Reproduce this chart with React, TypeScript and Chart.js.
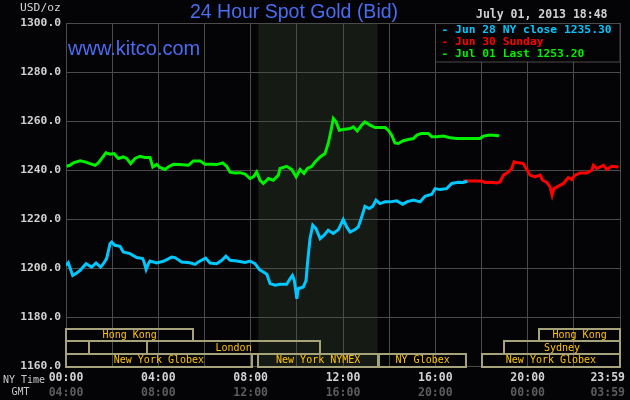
import React, { useEffect, useRef } from 'react';
import { Chart, registerables } from 'chart.js';

Chart.register(...registerables);

// ---- data (hours since 00:00 NY time, USD/oz) ----
const jun28Hours = [0, 0.10, 0.29, 0.46, 0.61, 0.87, 1.11, 1.30, 1.50, 1.62, 1.76, 1.91, 1.98, 2.12, 2.34, 2.48, 2.77, 3.06, 3.32, 3.38, 3.47, 3.57, 3.64, 3.93, 4.22, 4.58, 4.72, 5.01, 5.37, 5.59, 5.73, 6.05, 6.24, 6.53, 6.75, 6.93, 7.11, 7.40, 7.76, 7.97, 8.19, 8.38, 8.55, 8.70, 8.84, 9.06, 9.27, 9.56, 9.71, 9.81, 9.89, 9.97, 10.00, 10.06, 10.28, 10.40, 10.46, 10.57, 10.69, 10.83, 11.01, 11.18, 11.36, 11.58, 11.80, 12.01, 12.16, 12.31, 12.52, 12.66, 12.81, 12.95, 13.14, 13.29, 13.43, 13.60, 13.82, 14.04, 14.33, 14.59, 14.76, 15.05, 15.34, 15.55, 15.85, 15.99, 16.20, 16.49, 16.71, 17.00, 17.21, 17.39];
const jun28Prices = [1201.2, 1202.3, 1197.1, 1198.1, 1199.2, 1201.9, 1200.5, 1202.2, 1200.5, 1201.9, 1204.0, 1210.1, 1210.7, 1209.4, 1209.0, 1206.7, 1206.0, 1204.4, 1204.0, 1202.6, 1199.5, 1201.9, 1203.0, 1202.2, 1202.9, 1204.6, 1204.4, 1202.6, 1202.3, 1201.6, 1202.6, 1204.2, 1202.2, 1201.9, 1203.3, 1205.0, 1203.3, 1203.0, 1202.4, 1203.0, 1201.9, 1199.5, 1198.5, 1197.6, 1193.8, 1193.1, 1193.5, 1193.5, 1195.8, 1197.1, 1195.1, 1189.7, 1187.6, 1191.7, 1192.4, 1195.1, 1201.9, 1212.1, 1217.6, 1216.2, 1212.1, 1213.5, 1215.5, 1214.2, 1215.8, 1219.9, 1216.9, 1214.8, 1215.8, 1216.9, 1220.9, 1225.3, 1224.4, 1225.3, 1227.8, 1226.4, 1227.1, 1227.1, 1227.5, 1226.1, 1227.1, 1227.8, 1227.1, 1229.4, 1230.2, 1232.5, 1232.1, 1232.5, 1234.6, 1235.1, 1235.0, 1235.5];

const jun30Hours = [17.21, 18.01, 18.15, 18.44, 18.66, 18.80, 18.95, 19.16, 19.31, 19.41, 19.60, 19.81, 19.96, 20.10, 20.32, 20.54, 20.65, 20.83, 20.97, 21.06, 21.14, 21.33, 21.55, 21.76, 21.91, 22.05, 22.27, 22.56, 22.78, 22.85, 22.99, 23.28, 23.43, 23.64, 23.93];
const jun30Prices = [1235.6, 1235.6, 1235.0, 1235.1, 1234.8, 1235.2, 1238.0, 1239.2, 1240.7, 1243.4, 1243.0, 1242.7, 1240.3, 1238.0, 1237.3, 1238.0, 1235.9, 1235.0, 1233.2, 1229.8, 1232.5, 1233.5, 1234.6, 1237.0, 1236.2, 1238.0, 1238.9, 1238.9, 1240.0, 1242.0, 1240.7, 1242.0, 1240.3, 1241.6, 1241.3];

const jul01Hours = [0.03, 0.17, 0.32, 0.61, 0.82, 1.04, 1.26, 1.40, 1.55, 1.73, 1.91, 2.08, 2.27, 2.48, 2.63, 2.80, 2.99, 3.21, 3.42, 3.64, 3.76, 3.93, 4.07, 4.29, 4.43, 4.65, 4.94, 5.30, 5.52, 5.81, 6.02, 6.31, 6.53, 6.79, 6.96, 7.11, 7.32, 7.54, 7.76, 7.97, 8.12, 8.26, 8.41, 8.55, 8.77, 8.98, 9.20, 9.27, 9.56, 9.78, 9.97, 10.14, 10.31, 10.46, 10.65, 10.79, 11.01, 11.22, 11.36, 11.47, 11.58, 11.70, 11.84, 12.01, 12.31, 12.45, 12.62, 12.81, 12.95, 13.17, 13.39, 13.60, 13.82, 13.96, 14.11, 14.25, 14.40, 14.61, 14.83, 15.05, 15.20, 15.41, 15.70, 15.85, 16.06, 16.35, 16.64, 16.93, 17.36, 17.94, 18.08, 18.37, 18.77];
const jul01Prices = [1241.6, 1242.0, 1243.0, 1243.8, 1243.4, 1242.7, 1242.0, 1243.0, 1244.8, 1247.1, 1246.5, 1246.8, 1244.8, 1245.4, 1244.8, 1242.7, 1244.8, 1245.7, 1245.2, 1245.2, 1241.3, 1242.4, 1241.1, 1240.3, 1241.3, 1242.4, 1242.3, 1242.0, 1243.8, 1243.8, 1242.4, 1242.4, 1242.3, 1243.0, 1241.6, 1239.2, 1238.9, 1239.0, 1238.4, 1236.6, 1237.3, 1239.3, 1235.9, 1234.6, 1236.6, 1235.9, 1238.0, 1240.7, 1241.6, 1240.3, 1237.3, 1240.3, 1238.7, 1240.7, 1241.6, 1243.4, 1245.4, 1246.8, 1250.9, 1255.6, 1261.1, 1259.7, 1256.3, 1256.6, 1257.0, 1257.7, 1256.0, 1258.4, 1259.7, 1258.4, 1257.4, 1257.4, 1257.4, 1256.3, 1254.3, 1251.1, 1250.9, 1252.0, 1252.5, 1252.9, 1254.3, 1255.0, 1255.0, 1253.6, 1253.6, 1253.9, 1253.2, 1252.9, 1252.9, 1252.9, 1253.9, 1254.3, 1254.0];

const legendLabels = ['- Jun 28 NY close 1235.30', '- Jun 30 Sunday', '- Jul 01 Last 1253.20'];

const nyTimeLabels = ['00:00', '04:00', '08:00', '12:00', '16:00', '20:00', '23:59'];
const gmtTimeLabels = ['04:00', '08:00', '12:00', '16:00', '20:00', '00:00', '03:59'];
const timeLabelHours = [0, 4, 8, 12, 16, 20, 23.983];

const nymexSession = [8.33, 13.5];

const marketNames = ['Hong Kong', 'Hong Kong', '', '', 'London', 'Sydney', 'New York Globex', 'New York NYMEX', 'NY Globex', 'New York Globex'];
const marketStart = [0, 20.5, 0, 1.0, 3.52, 18.98, 0, 8.33, 13.55, 18.02];
const marketEnd = [5.52, 24, 1.0, 3.52, 11.0, 24, 8.05, 13.52, 17.35, 24];
const marketRow = [0, 0, 1, 1, 1, 1, 2, 2, 2, 2];

const titleText = '24 Hour Spot Gold (Bid)';
const siteText = 'www.kitco.com';
const dateText = 'July 01, 2013 18:48';
const unitText = 'USD/oz';

// ---- styles ----
const BG = '#040406';
const GRID = '#4b4b4b';
const SHADE = '#151a15';
const TICK = '#d2d2d2';
const DIM = '#5c5c5c';
const BLUE_TXT = '#4a6cf2';
const CYAN = '#00c8ff';
const RED = '#ff0000';
const GREEN = '#00f000';
const BOX = '#a6a37a';
const MKT_TXT = '#ffc400';
const MONO = '"DejaVu Sans Mono", monospace';
const SANS = '"Liberation Sans", Arial, sans-serif';
const ROW_EDGES = [1175.4, 1170.3, 1165.05, 1160];

const pts = (hs: number[], vs: number[]) => hs.map((h, i) => ({ x: h, y: vs[i] }));

export default function App() {
  const ref = useRef<HTMLCanvasElement>(null);

  useEffect(() => {
    const canvas = ref.current;
    if (!canvas) return;

    const kitcoPlugin = {
      id: 'kitcoDecor',
      beforeDraw(chart: any) {
        const { ctx, chartArea: a, scales } = chart;
        const x = scales.x;
        ctx.save();
        ctx.fillStyle = BG;
        ctx.fillRect(0, 0, chart.width, chart.height);
        const x1 = x.getPixelForValue(nymexSession[0]);
        const x2 = x.getPixelForValue(nymexSession[1]);
        ctx.fillStyle = SHADE;
        ctx.fillRect(x1, a.top, x2 - x1, a.bottom - a.top);
        ctx.restore();
      },
      afterDraw(chart: any) {
        const { ctx, chartArea: a, scales } = chart;
        const x = scales.x;
        const y = scales.y;
        ctx.save();

        // market session boxes
        ctx.lineWidth = 2;
        ctx.strokeStyle = BOX;
        ctx.font = `10px ${MONO}`;
        ctx.textAlign = 'center';
        ctx.textBaseline = 'middle';
        marketNames.forEach((name, i) => {
          const r = marketRow[i];
          const x1 = Math.round(x.getPixelForValue(marketStart[i]));
          const x2 = Math.round(x.getPixelForValue(marketEnd[i]));
          const y1 = Math.round(y.getPixelForValue(ROW_EDGES[r]));
          const y2 = Math.round(y.getPixelForValue(ROW_EDGES[r + 1]));
          ctx.strokeRect(x1, y1, x2 - x1, y2 - y1);
        });
        ctx.fillStyle = MKT_TXT;
        marketNames.forEach((name, i) => {
          if (!name) return;
          const r = marketRow[i];
          const cx = (x.getPixelForValue(marketStart[i]) + x.getPixelForValue(marketEnd[i])) / 2;
          const cy = (y.getPixelForValue(ROW_EDGES[r]) + y.getPixelForValue(ROW_EDGES[r + 1])) / 2;
          ctx.fillText(name, cx, cy + 0.5);
        });

        // legend box
        const lx = Math.round(x.getPixelForValue(16)) + 0.5;
        const lw = Math.round(a.right) - lx;
        const lh = 38.5;
        ctx.fillStyle = BG;
        ctx.fillRect(lx, a.top, lw, lh);
        ctx.lineWidth = 1;
        ctx.strokeStyle = GRID;
        ctx.strokeRect(lx, Math.round(a.top) + 0.5, lw, lh);
        const lcolors = [CYAN, RED, GREEN];
        ctx.font = `bold 11.3px ${MONO}`;
        ctx.textAlign = 'left';
        legendLabels.forEach((t, i) => {
          ctx.fillStyle = lcolors[i];
          ctx.fillText(t, lx + 6, a.top + 7 + i * 12);
        });

        // titles
        ctx.fillStyle = BLUE_TXT;
        ctx.textBaseline = 'alphabetic';
        ctx.textAlign = 'center';
        ctx.font = `19.5px ${SANS}`;
        ctx.fillText(titleText, 294, 17.5);
        ctx.textAlign = 'left';
        ctx.font = `20px ${SANS}`;
        ctx.fillText(siteText, 68, 55);

        ctx.textBaseline = 'middle';
        ctx.fillStyle = TICK;
        ctx.font = `bold 11.5px ${MONO}`;
        ctx.fillText(dateText, 476, 15.5);
        ctx.font = `11.3px ${MONO}`;
        ctx.fillText(unitText, 20, 8);

        // time axis labels
        ctx.font = `10px ${MONO}`;
        ctx.fillStyle = '#c8c8c8';
        ctx.fillText('NY Time', 3, 380);
        ctx.fillText('GMT', 11.5, 392);
        ctx.font = `bold 11.5px ${MONO}`;
        ctx.textAlign = 'center';
        timeLabelHours.forEach((h, i) => {
          let cx = x.getPixelForValue(h);
          const w = ctx.measureText(nyTimeLabels[i]).width;
          if (cx + w / 2 > chart.width - 5) cx = chart.width - 5 - w / 2;
          ctx.fillStyle = TICK;
          ctx.fillText(nyTimeLabels[i], cx, 378.5);
          ctx.fillStyle = DIM;
          ctx.fillText(gmtTimeLabels[i], cx, 393.5);
        });

        ctx.restore();
      },
    };

    const chart = new Chart(canvas, {
      type: 'line',
      data: {
        datasets: [
          { label: legendLabels[0], data: pts(jun28Hours, jun28Prices), borderColor: CYAN, borderWidth: 3, pointRadius: 0, tension: 0 },
          { label: legendLabels[1], data: pts(jun30Hours, jun30Prices), borderColor: RED, borderWidth: 3, pointRadius: 0, tension: 0 },
          { label: legendLabels[2], data: pts(jul01Hours, jul01Prices), borderColor: GREEN, borderWidth: 3, pointRadius: 0, tension: 0 },
        ],
      },
      options: {
        responsive: false,
        animation: false,
        events: [],
        layout: { padding: { top: 23, right: 10, left: 0, bottom: 0 } },
        plugins: {
          legend: { display: false },
          tooltip: { enabled: false },
          title: { display: false },
        },
        scales: {
          x: {
            type: 'linear',
            min: 0,
            max: 24,
            ticks: { display: false, stepSize: 2 },
            grid: { color: GRID, lineWidth: 1, drawTicks: false },
            border: { color: GRID, width: 1 },
            afterFit: (s: any) => { s.height = 33.5; },
          },
          y: {
            type: 'linear',
            min: 1160,
            max: 1300,
            ticks: {
              stepSize: 20,
              padding: 5,
              color: TICK,
              font: { family: MONO, size: 11.3, weight: 'bold' },
              callback: (v: any) => Number(v).toFixed(1),
            },
            grid: { color: GRID, lineWidth: 1, drawTicks: false },
            border: { color: GRID, width: 1 },
            afterFit: (s: any) => { s.width = 66; },
          },
        },
      } as any,
      plugins: [kitcoPlugin],
    });

    return () => chart.destroy();
  }, []);

  return (
    <div style={{ position: 'absolute', left: 0, top: 0, width: 630, height: 400 }}>
      <canvas ref={ref} width={630} height={400} style={{ display: 'block', width: 630, height: 400 }} />
    </div>
  );
}
